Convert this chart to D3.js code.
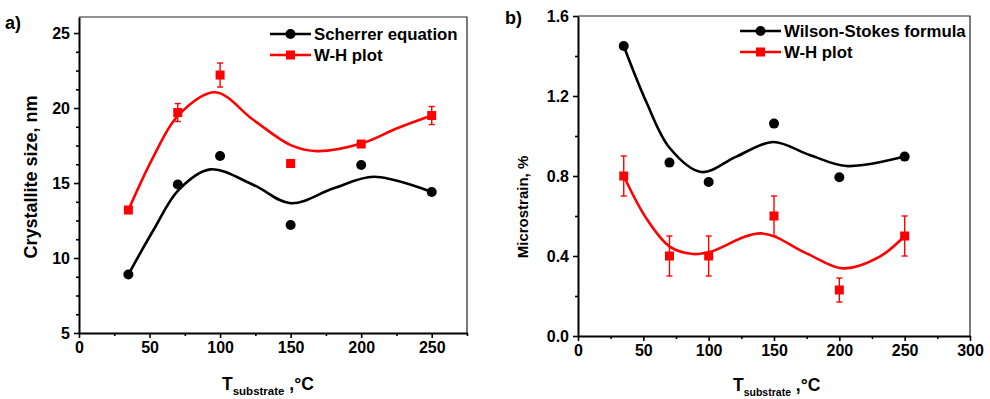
<!DOCTYPE html>
<html>
<head>
<meta charset="utf-8">
<script src="https://cdn.jsdelivr.net/npm/d3@7"></script>
<style>
  body { margin: 0; background: #fff; }
  text { font-family: "Liberation Sans", Arial, sans-serif; font-weight: bold; fill: #000; }
  .tick text { font-size: 16px; }
</style>
</head>
<body>
<div id="chart"></div>
<script>
//Datos - panel a)
const tempA = [35, 70, 100, 150, 200, 250];
const scherrer = [8.9, 14.9, 16.8, 12.2, 16.2, 14.4];
const whSize = [13.2, 19.7, 22.2, 16.3, 17.6, 19.5];
const whSizeErr = [0.15, 0.6, 0.8, 0.2, 0.15, 0.6];

//Curvas ajustadas
const scherrerFitT = [35, 52.7, 70.5, 93, 123.7, 150, 180.5, 209, 250];
const scherrerFit = [8.9, 11.85, 14.53, 15.91, 14.87, 13.65, 14.65, 15.42, 14.4];
const whSizeFitT = [35, 52.7, 70.5, 96.5, 123.7, 150, 168.7, 200.6, 225.5, 250];
const whSizeFit = [13.2, 16.75, 19.53, 21.05, 19.2, 17.53, 17.13, 17.65, 18.65, 19.5];

//Datos - panel b)
const tempB = [35, 70, 100, 150, 200, 250];
const wilson = [1.45, 0.867, 0.77, 1.062, 0.794, 0.897];
const whStrain = [0.80, 0.40, 0.40, 0.60, 0.23, 0.50];
const whStrainErr = [0.1, 0.1, 0.1, 0.1, 0.06, 0.1];

const wilsonFitT = [35, 52.3, 70.2, 94.4, 121.2, 149.2, 177.3, 205.4, 250];
const wilsonFit = [1.45, 1.17, 0.94, 0.82, 0.897, 0.97, 0.905, 0.85, 0.897];
const whStrainFitT = [35, 52.3, 70.2, 88, 100.8, 140.3, 174.8, 202.8, 230.9, 250];
const whStrainFit = [0.80, 0.588, 0.447, 0.41, 0.42, 0.513, 0.413, 0.338, 0.397, 0.50];

//Ticks
const xTicksA = [0, 50, 100, 150, 200, 250];
const xMinorA = [25, 75, 125, 175, 225, 275];
const yTicksA = [5, 10, 15, 20, 25];
const yMinorA = [6.25, 7.5, 8.75, 11.25, 12.5, 13.75, 16.25, 17.5, 18.75, 21.25, 22.5, 23.75];
const xTicksB = [0, 50, 100, 150, 200, 250, 300];
const xMinorB = [25, 75, 125, 175, 225, 275];
const yTicksB = [0, 0.4, 0.8, 1.2, 1.6];
const yMinorB = [0.2, 0.6, 1.0, 1.4];

const BLACK = '#000', RED = '#ff0000';

let svg = d3.select('#chart').append('svg')
    .attr('width', 990).attr('height', 399);

function zip(a, b) { return a.map(function(d, i) { return [d, b[i]]; }); }

function drawPanel(cfg) {
    let x = d3.scaleLinear().domain(cfg.xDomain).range(cfg.xRange);
    let y = d3.scaleLinear().domain(cfg.yDomain).range(cfg.yRange);
    let g = svg.append('g');

    //Marco superior y derecho
    g.append('path')
        .attr('d', 'M' + x.range()[0] + ',' + y.range()[1] + 'H' + x.range()[1] + 'V' + y.range()[0])
        .attr('fill', 'none').attr('stroke', '#222').attr('stroke-width', 1.2);

    //Ejes
    let xAxis = g.append('g').attr('transform', 'translate(0,' + y.range()[0] + ')')
        .call(d3.axisBottom(x).tickValues(cfg.xTicks).tickSize(5).tickSizeOuter(0).tickPadding(4));
    g.append('g').attr('transform', 'translate(0,' + y.range()[0] + ')')
        .call(d3.axisBottom(x).tickValues(cfg.xMinor).tickSize(3).tickSizeOuter(0).tickFormat(''))
        .call(function(a) { a.select('.domain').remove(); });
    let yAxis = g.append('g').attr('transform', 'translate(' + x.range()[0] + ',0)')
        .call(d3.axisLeft(y).tickValues(cfg.yTicks).tickSize(5).tickSizeOuter(0).tickPadding(4).tickFormat(cfg.yFormat));
    g.append('g').attr('transform', 'translate(' + x.range()[0] + ',0)')
        .call(d3.axisLeft(y).tickValues(cfg.yMinor).tickSize(3).tickSizeOuter(0).tickFormat(''))
        .call(function(a) { a.select('.domain').remove(); });
    g.selectAll('.domain').attr('stroke-width', 2).attr('stroke', BLACK);
    g.selectAll('.tick line').attr('stroke-width', 1.6).attr('stroke', BLACK);
    xAxis.attr('font-family', null).attr('font-size', null);
    yAxis.attr('font-family', null).attr('font-size', null);

    //Curvas
    let line = d3.line()
        .x(function(d) { return x(d[0]); })
        .y(function(d) { return y(d[1]); })
        .curve(d3.curveCatmullRom.alpha(0.5));
    g.append('path').datum(zip(cfg.fit1T, cfg.fit1))
        .attr('fill', 'none').attr('stroke', BLACK).attr('stroke-width', 2.6).attr('d', line);
    g.append('path').datum(zip(cfg.fit2T, cfg.fit2))
        .attr('fill', 'none').attr('stroke', RED).attr('stroke-width', 2.6).attr('d', line);

    //Barras de error
    let err = g.selectAll('.err').data(cfg.t).enter().append('g').attr('class', 'err');
    err.append('line')
        .attr('x1', function(d) { return x(d); }).attr('x2', function(d) { return x(d); })
        .attr('y1', function(d, i) { return y(cfg.s2[i] - cfg.e2[i]); })
        .attr('y2', function(d, i) { return y(cfg.s2[i] + cfg.e2[i]); })
        .attr('stroke', RED).attr('stroke-width', 1.4);
    [-1, 1].forEach(function(sgn) {
        err.append('line')
            .attr('x1', function(d) { return x(d) - 3; }).attr('x2', function(d) { return x(d) + 3; })
            .attr('y1', function(d, i) { return y(cfg.s2[i] + sgn * cfg.e2[i]); })
            .attr('y2', function(d, i) { return y(cfg.s2[i] + sgn * cfg.e2[i]); })
            .attr('stroke', RED).attr('stroke-width', 1.4);
    });

    //Puntos
    g.selectAll('.dot').data(cfg.t).enter().append('circle')
        .attr('cx', function(d) { return x(d); })
        .attr('cy', function(d, i) { return y(cfg.s1[i]); })
        .attr('r', 5).attr('fill', BLACK);
    g.selectAll('.sq').data(cfg.t).enter().append('rect')
        .attr('x', function(d) { return x(d) - 4.5; })
        .attr('y', function(d, i) { return y(cfg.s2[i]) - 4.5; })
        .attr('width', 9).attr('height', 9).attr('fill', RED);

    //Leyenda
    let lg = g.append('g').attr('transform', 'translate(' + cfg.legend[0] + ',' + cfg.legend[1] + ')');
    [[cfg.names[0], BLACK, 'circle'], [cfg.names[1], RED, 'rect']].forEach(function(item, i) {
        let row = lg.append('g').attr('transform', 'translate(0,' + (i * 21) + ')');
        row.append('line').attr('x1', 0).attr('x2', 41).attr('stroke', item[1]).attr('stroke-width', 2.6);
        if (item[2] == 'circle') {
            row.append('circle').attr('cx', 20.5).attr('r', 5).attr('fill', item[1]);
        } else {
            row.append('rect').attr('x', 16).attr('y', -4.5).attr('width', 9).attr('height', 9).attr('fill', item[1]);
        }
        row.append('text').attr('x', 44).attr('y', 6).attr('font-size', 16.8).text(item[0]);
    });

    //Títulos
    g.append('text')
        .attr('transform', 'translate(' + cfg.yTitle[0] + ',' + cfg.yTitle[1] + ') rotate(-90)')
        .attr('text-anchor', 'middle').attr('font-size', cfg.yTitle[2]).text(cfg.yLabel);
    let xt = g.append('text').attr('x', cfg.xTitle[0]).attr('y', cfg.xTitle[1]).attr('font-size', 17.5);
    xt.append('tspan').text('T');
    xt.append('tspan').attr('dy', 5).attr('font-size', cfg.xTitle[2]).text('substrate');
    xt.append('tspan').attr('dy', -5).text(' ,°C');
    g.append('text').attr('x', cfg.panel[0]).attr('y', cfg.panel[1]).attr('font-size', 18).text(cfg.panel[2]);
}

drawPanel({
    xDomain: [0, 275], xRange: [79, 467],
    yDomain: [5, 26.07], yRange: [333, 17],
    xTicks: xTicksA, xMinor: xMinorA, yTicks: yTicksA, yMinor: yMinorA,
    yFormat: d3.format('d'),
    t: tempA, s1: scherrer, s2: whSize, e2: whSizeErr,
    fit1T: scherrerFitT, fit1: scherrerFit, fit2T: whSizeFitT, fit2: whSizeFit,
    names: ['Scherrer equation', 'W-H plot'], legend: [270, 34],
    yLabel: 'Crystallite size, nm', yTitle: [37, 177, 18],
    xTitle: [222, 390, 11.5], panel: [5, 29, 'a)']
});

drawPanel({
    xDomain: [0, 300], xRange: [578, 970],
    yDomain: [0, 1.6], yRange: [336, 16],
    xTicks: xTicksB, xMinor: xMinorB, yTicks: yTicksB, yMinor: yMinorB,
    yFormat: d3.format('.1f'),
    t: tempB, s1: wilson, s2: whStrain, e2: whStrainErr,
    fit1T: wilsonFitT, fit1: wilsonFit, fit2T: whStrainFitT, fit2: whStrainFit,
    names: ['Wilson-Stokes formula', 'W-H plot'], legend: [740, 31],
    yLabel: 'Microstrain, %', yTitle: [528, 207, 15],
    xTitle: [733, 391, 10.5], panel: [505, 24, 'b)']
});
</script>
</body>
</html>
